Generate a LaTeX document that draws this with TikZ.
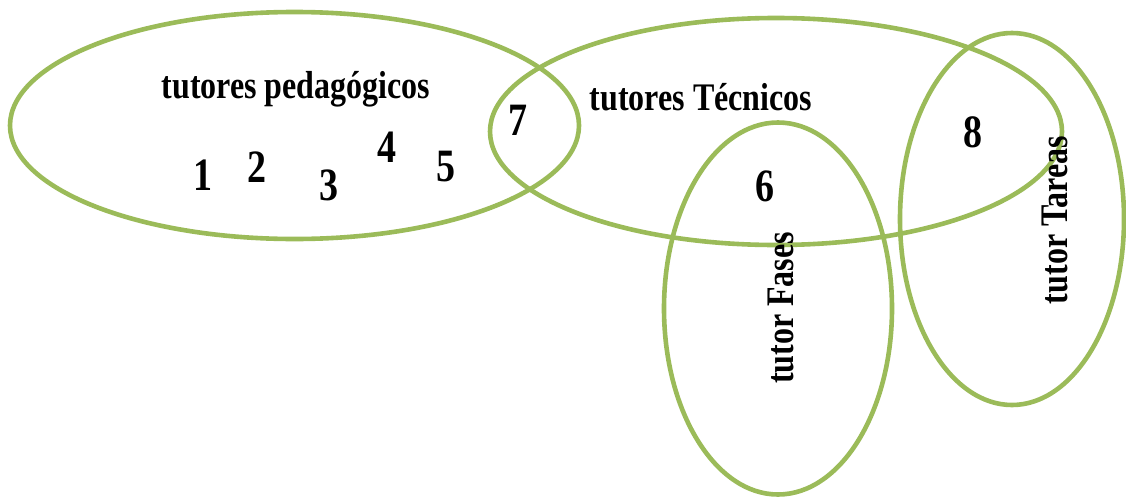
\documentclass[tikz,border=0pt]{standalone}
\usepackage{fontspec}
\setmainfont{Liberation Serif}
\definecolor{venngreen}{HTML}{9BBB59}
\newcommand{\tall}[1]{\scalebox{1}[1.22]{#1}}
\begin{document}
\begin{tikzpicture}[x=1pt,y=-1pt,
    set/.style={draw=venngreen,line width=4.6pt},
    setname/.style={font=\bfseries\fontsize{32}{36}\selectfont,inner sep=0pt},
    member/.style={font=\bfseries\fontsize{38}{42}\selectfont,inner sep=0pt}]
  \useasboundingbox (0,0) rectangle (1126,498);
  % conjuntos
  \draw[set] (294.5,125.5) ellipse [x radius=284.5, y radius=113.5];
  \draw[set] (776,131.5) ellipse [x radius=286, y radius=113.5];
  \draw[set] (778,308.5) ellipse [x radius=114, y radius=186];
  \draw[set] (1012,219) ellipse [x radius=112, y radius=186];
  % nombres
  \node[setname] (pedagogicos) at (296,89) {\tall{tutores pedagógicos}};
  \node[setname] (tecnicos) at (701,97) {\tall{tutores Técnicos}};
  \node[setname,rotate=90] (fases) at (781,308) {\tall{tutor Fases}};
  \node[setname,rotate=90] (tareas) at (1055,220) {\tall{tutor Tareas}};
  % miembros
  \node[member] (m1) at (203,175) {\tall{1}};
  \node[member] (m2) at (257,167) {\tall{2}};
  \node[member] (m3) at (329,185) {\tall{3}};
  \node[member] (m4) at (387,147) {\tall{4}};
  \node[member] (m5) at (446,167) {\tall{5}};
  \node[member] (m6) at (765,186) {\tall{6}};
  \node[member] (m7) at (518,120) {\tall{7}};
  \node[member] (m8) at (973,132) {\tall{8}};
\end{tikzpicture}
\end{document}
